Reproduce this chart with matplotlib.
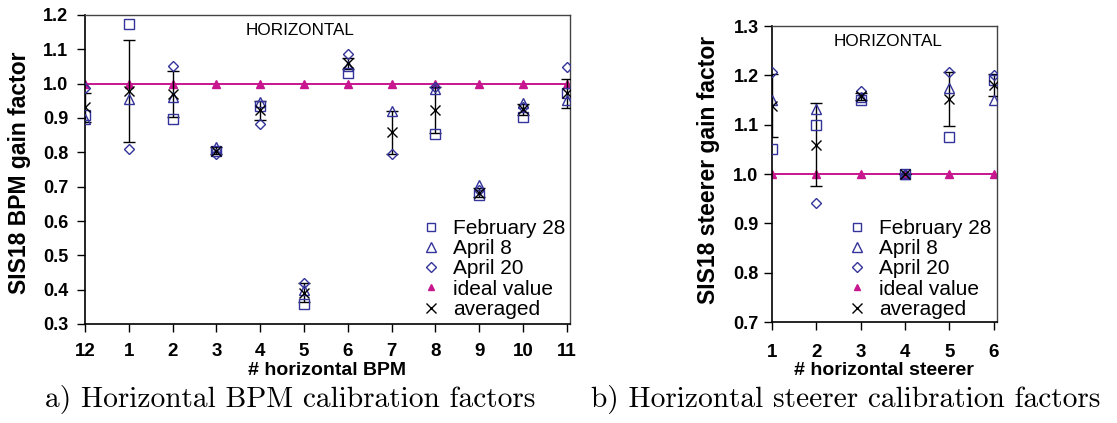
import numpy as np
import matplotlib
matplotlib.use("Agg")
import matplotlib.pyplot as plt
from matplotlib.lines import Line2D

plt.rcParams['font.family'] = ['Liberation Sans', 'DejaVu Sans']

# ---------------- data: left panel (horizontal BPM) ----------------
bpm_labels = ["12", "1", "2", "3", "4", "5", "6", "7", "8", "9", "10", "11"]
bpm_feb28 = [0.908, 1.173, 0.896, 0.805, 0.935, 0.357, 1.030, np.nan, 0.852, 0.675, 0.904, 0.972]
bpm_apr8 = [0.896, 0.954, 0.962, 0.816, 0.948, 0.398, 1.050, 0.920, 0.985, 0.704, 0.943, 0.952]
bpm_apr20 = [0.988, 0.811, 1.052, 0.794, 0.882, 0.418, 1.086, 0.795, 0.990, 0.690, 0.932, 1.049]
bpm_ideal = [1.0] * 12
bpm_avg = [0.931, 0.979, 0.970, 0.805, 0.922, 0.391, 1.059, 0.858, 0.922, 0.683, 0.926, 0.972]
bpm_err = [0.043, 0.149, 0.066, 0.010, 0.028, 0.027, 0.017, 0.063, 0.067, 0.013, 0.016, 0.043]

# ---------------- data: right panel (horizontal steerer) ----------------
st_labels = ["1", "2", "3", "4", "5", "6"]
st_feb28 = [1.051, 1.100, 1.151, 1.000, 1.076, 1.191]
st_apr8 = [1.151, 1.132, 1.157, 1.000, 1.174, 1.149]
st_apr20 = [1.206, 0.942, 1.168, 1.000, 1.206, 1.201]
st_ideal = [1.0] * 6
st_avg = [1.138, 1.059, 1.158, 1.000, 1.152, 1.181]
st_err = [0.064, 0.084, 0.007, 0.0, 0.055, 0.022]

series_names = ["February 28", "April 8", "April 20", "ideal value", "averaged"]

BLUE = '#333399'
MAG = '#c8168f'

W, H = 1117, 423
fig = plt.figure(figsize=(W / 100, H / 100), dpi=100)


def fx(px):
    return px / W


def fy(py):
    return 1 - py / H


def panel(ax, xs, feb, apr8, apr20, ideal, avg, err, xpad, ypad):
    ax.plot(xs, ideal, color=MAG, lw=1.4, marker='^', ms=6, mfc=MAG, mec=MAG, zorder=2)
    ax.errorbar(xs, avg, yerr=err, fmt='none', ecolor='black', elinewidth=1.0,
                capsize=4, capthick=1.0, zorder=3)
    ax.plot(xs, feb, ls='none', marker='s', ms=7, mfc='none', mec=BLUE, mew=1.0, zorder=4)
    ax.plot(xs, apr8, ls='none', marker='^', ms=7.5, mfc='none', mec=BLUE, mew=1.0, zorder=4)
    ax.plot(xs, apr20, ls='none', marker='D', ms=5.5, mfc='none', mec=BLUE, mew=1.0, zorder=4)
    ax.plot(xs, avg, ls='none', marker='x', ms=7, mec='black', mew=1.0, zorder=5)
    for s in ['top', 'right']:
        ax.spines[s].set_color('#444444')
        ax.spines[s].set_linewidth(1.0)
    for s in ['left', 'bottom']:
        ax.spines[s].set_color('black')
        ax.spines[s].set_linewidth(1.2)
    ax.tick_params(axis='both', direction='out', length=6, width=1.0)
    ax.tick_params(axis='x', pad=xpad)
    ax.tick_params(axis='y', pad=ypad)
    for lab in ax.get_yticklabels():
        lab.set_fontweight('bold')
        lab.set_fontsize(13)
    for lab in ax.get_xticklabels():
        lab.set_fontweight('bold')
        lab.set_fontsize(13.5)


def legend(left_px, top_px):
    handles = [
        Line2D([], [], ls='none', marker='s', ms=6, mfc='none', mec=BLUE, mew=1.0),
        Line2D([], [], ls='none', marker='^', ms=6.5, mfc='none', mec=BLUE, mew=1.0),
        Line2D([], [], ls='none', marker='D', ms=5, mfc='none', mec=BLUE, mew=1.0),
        Line2D([], [], ls='none', marker='^', ms=5, mfc=MAG, mec=MAG),
        Line2D([], [], ls='none', marker='x', ms=7, mec='black', mew=1.0),
    ]
    fig.legend(handles, series_names, loc='upper left',
               bbox_to_anchor=(fx(left_px), fy(top_px)), frameon=False,
               fontsize=15, handlelength=1.0, handletextpad=0.55,
               borderpad=0, borderaxespad=0, labelspacing=0.06)


# ---------- left panel ----------
axL = fig.add_axes([fx(85), fy(324), fx(570 - 85), (324 - 15) / H])
xL = np.arange(len(bpm_labels))
axL.set_xlim(0, 11.07)
axL.set_ylim(0.3, 1.2)
axL.set_xticks(xL)
axL.set_xticklabels(bpm_labels)
yL = np.round(np.arange(0.3, 1.21, 0.1), 1)
axL.set_yticks(yL)
axL.set_yticklabels([f"{v:.1f}" for v in yL])
panel(axL, xL, bpm_feb28, bpm_apr8, bpm_apr20, bpm_ideal, bpm_avg, bpm_err, 8, 6)
axL.set_xlabel("# horizontal BPM", fontsize=14, fontweight='bold')
axL.set_ylabel("SIS18 BPM gain factor", fontsize=16.5, fontweight='bold')
axL.xaxis.set_label_coords(0.5, (324 - 362) / 309)
axL.yaxis.set_label_coords((31 - 85) / 485, 0.49)
axL.text(0.443, 0.95, "HORIZONTAL", transform=axL.transAxes, ha='center', va='center', fontsize=12.3)
legend(421, 219)

# ---------- right panel ----------
axR = fig.add_axes([fx(771.7), fy(322), fx(997 - 771.7), (322 - 26) / H])
xR = np.arange(1, len(st_labels) + 1)
axR.set_xlim(1, 6.07)
axR.set_ylim(0.7, 1.3)
axR.set_xticks(xR)
axR.set_xticklabels(st_labels)
yR = np.round(np.arange(0.7, 1.31, 0.1), 1)
axR.set_yticks(yR)
axR.set_yticklabels([f"{v:.1f}" for v in yR])
panel(axR, xR, st_feb28, st_apr8, st_apr20, st_ideal, st_avg, st_err, 10, 3.5)
axR.set_xlabel("# horizontal steerer", fontsize=14, fontweight='bold')
axR.set_ylabel("SIS18 steerer gain factor", fontsize=16.5, fontweight='bold')
axR.xaxis.set_label_coords(0.5, (322 - 362) / 296)
axR.yaxis.set_label_coords((720 - 771.7) / 225.3, 0.515)
axR.text(0.515, 0.947, "HORIZONTAL", transform=axR.transAxes, ha='center', va='center', fontsize=12.3)
legend(847, 219)

# ---------- captions ----------
fig.text(fx(290), fy(399), "a) Horizontal BPM calibration factors",
         ha='center', va='center', fontsize=21.2, family='cmr10')
fig.text(fx(846), fy(399), "b) Horizontal steerer calibration factors",
         ha='center', va='center', fontsize=21.2, family='cmr10')

fig.savefig("out.png", dpi=100)
